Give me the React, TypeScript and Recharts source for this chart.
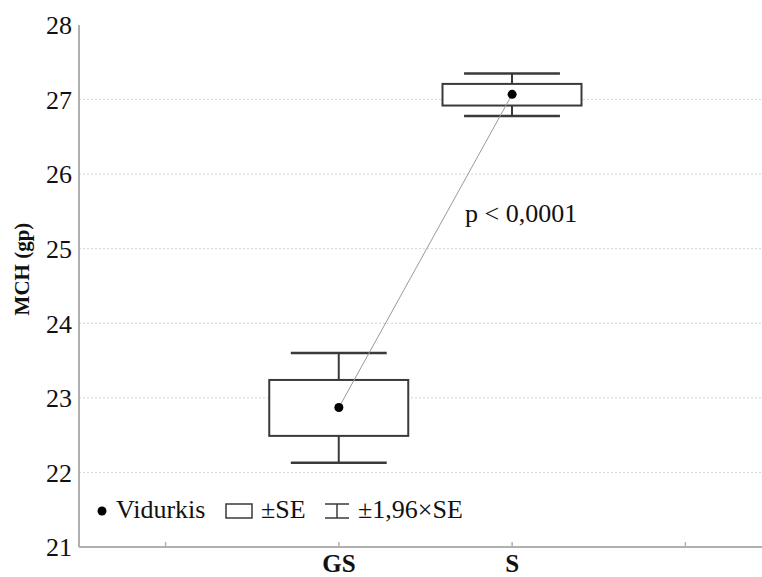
import React from "react";
import {
  ComposedChart,
  Bar,
  Line,
  XAxis,
  YAxis,
  CartesianGrid,
  ReferenceDot,
} from "recharts";

// groups on the x axis (empty slots at both ends keep the boxes centred)
const slots = ["left", "GS", "S", "right"];
const groups = ["GS", "S"];

// MCH mean and its intervals for each group
const means = [22.87, 27.07];
const seLow = [22.49, 26.92];
const seHigh = [23.24, 27.21];
const ciLow = [22.13, 26.78];
const ciHigh = [23.6, 27.35];

const yTicks = [21, 22, 23, 24, 25, 26, 27, 28];

const rows = slots.map((slot) => {
  const i = groups.indexOf(slot);
  if (i < 0) return { slot, mean: null, ci: null, seLow: null, seHigh: null };
  return {
    slot,
    mean: means[i],
    ci: [ciLow[i], ciHigh[i]],
    seLow: seLow[i],
    seHigh: seHigh[i],
  };
});

const FONT = '"Liberation Serif", Tinos, "Times New Roman", serif';
const AXIS = "#b0b0b0";
const INK = "#3a3a3a";

// box (±SE) plus whiskers (±1,96×SE) drawn inside the bar's own geometry
function BoxShape(props: any) {
  const { x, y, width, height, payload } = props;
  if (!payload || payload.ci == null) return null;
  const [lo, hi] = payload.ci;
  const toY = (v: number) => y + (height * (hi - v)) / (hi - lo);
  const cx = x + width / 2;
  const capHalf = width * 0.345;
  const yTop = toY(payload.seHigh);
  const yBot = toY(payload.seLow);
  return (
    <g>
      <line x1={cx} x2={cx} y1={y} y2={yTop} stroke={INK} strokeWidth={2} />
      <line x1={cx} x2={cx} y1={yBot} y2={y + height} stroke={INK} strokeWidth={2} />
      <line x1={cx - capHalf} x2={cx + capHalf} y1={y} y2={y} stroke={INK} strokeWidth={2.5} />
      <line x1={cx - capHalf} x2={cx + capHalf} y1={y + height} y2={y + height} stroke={INK} strokeWidth={2.5} />
      <rect x={x} y={yTop} width={width} height={yBot - yTop} fill="#fff" stroke={INK} strokeWidth={2} />
    </g>
  );
}

function BottomTick(props: any) {
  const { x, y, payload } = props;
  const label = groups.includes(payload.value) ? payload.value : "";
  return (
    <g>
      <line x1={x} x2={x} y1={y - 5} y2={y} stroke={AXIS} strokeWidth={1.5} />
      <text x={x} y={y + 25} textAnchor="middle" fontFamily={FONT} fontWeight="bold" fontSize={25} fill="#111">
        {label}
      </text>
    </g>
  );
}

function TopTick(props: any) {
  const { x, y } = props;
  return <line x1={x} x2={x} y1={y} y2={y + 5} stroke={AXIS} strokeWidth={1.5} />;
}

function YLabel(props: any) {
  const { viewBox } = props;
  const cx = 22;
  const cy = viewBox.y + viewBox.height / 2 - 17;
  return (
    <text
      x={cx}
      y={cy}
      transform={`rotate(-90 ${cx} ${cy})`}
      textAnchor="middle"
      dominantBaseline="central"
      fontFamily={FONT}
      fontWeight="bold"
      fontSize={21}
      fill="#111"
    >
      MCH (gp)
    </text>
  );
}

function LegendBox() {
  const text: React.CSSProperties = {
    position: "absolute",
    top: 494,
    fontFamily: FONT,
    fontSize: 26,
    color: "#111",
    lineHeight: "32px",
    whiteSpace: "nowrap",
  };
  return (
    <>
      <svg style={{ position: "absolute", left: 0, top: 0 }} width={762} height={577} pointerEvents="none">
        <circle cx={102} cy={511} r={4.5} fill="#000" />
        <rect x={226} y={504} width={26} height={14} fill="#fff" stroke={INK} strokeWidth={1.5} />
        <line x1={325} x2={349} y1={504} y2={504} stroke={INK} strokeWidth={1.5} />
        <line x1={337} x2={337} y1={504} y2={518} stroke={INK} strokeWidth={1.5} />
        <line x1={325} x2={349} y1={518} y2={518} stroke={INK} strokeWidth={1.5} />
      </svg>
      <span style={{ ...text, left: 116 }}>Vidurkis</span>
      <span style={{ ...text, left: 261 }}>±SE</span>
      <span style={{ ...text, left: 358 }}>±1,96×SE</span>
    </>
  );
}

export default function App() {
  return (
    <div
      style={{
        position: "absolute",
        left: 0,
        top: 0,
        width: 762,
        height: 577,
        overflow: "hidden",
        background: "#fff",
      }}
    >
      <ComposedChart
        width={772}
        height={577}
        data={rows}
        margin={{ top: 25, right: 0, bottom: 0, left: 0 }}
        barCategoryGap={0}
      >
        <CartesianGrid
          vertical={false}
          horizontal
          stroke="#d4d4d4"
          strokeDasharray="2 2"
          horizontalValues={[22, 23, 24, 25, 26, 27]}
        />
        <XAxis
          dataKey="slot"
          xAxisId="bottom"
          height={30}
          interval={0}
          axisLine={{ stroke: AXIS, strokeWidth: 2 }}
          tickLine={false}
          tickSize={0}
          tickMargin={0}
          tick={<BottomTick />}
        />
        <XAxis
          dataKey="slot"
          xAxisId="top"
          orientation="top"
          height={0}
          interval={0}
          axisLine={{ stroke: AXIS, strokeWidth: 2 }}
          tickLine={false}
          tickSize={0}
          tickMargin={0}
          tick={<TopTick />}
        />
        <YAxis
          domain={[21, 28]}
          ticks={yTicks}
          width={79}
          interval={0}
          axisLine={{ stroke: AXIS, strokeWidth: 2 }}
          tickLine={false}
          tickSize={0}
          tickMargin={7}
          tick={{ fontFamily: FONT, fontSize: 26, fill: "#111" }}
          label={<YLabel />}
        />
        <Bar
          xAxisId="bottom"
          dataKey="ci"
          barSize={139}
          shape={<BoxShape />}
          isAnimationActive={false}
        />
        <Line
          xAxisId="bottom"
          dataKey="mean"
          stroke="#9a9a9a"
          strokeWidth={1}
          dot={{ r: 4.5, fill: "#000", stroke: "#000", strokeWidth: 0 }}
          activeDot={false}
          isAnimationActive={false}
        />
        <ReferenceDot
          xAxisId="bottom"
          x="S"
          y={25.48}
          r={0}
          fill="none"
          stroke="none"
          label={{ value: "p < 0,0001", position: "center", dx: 9, fontFamily: FONT, fontSize: 26, fill: "#111" }}
        />
      </ComposedChart>
      <LegendBox />
    </div>
  );
}
